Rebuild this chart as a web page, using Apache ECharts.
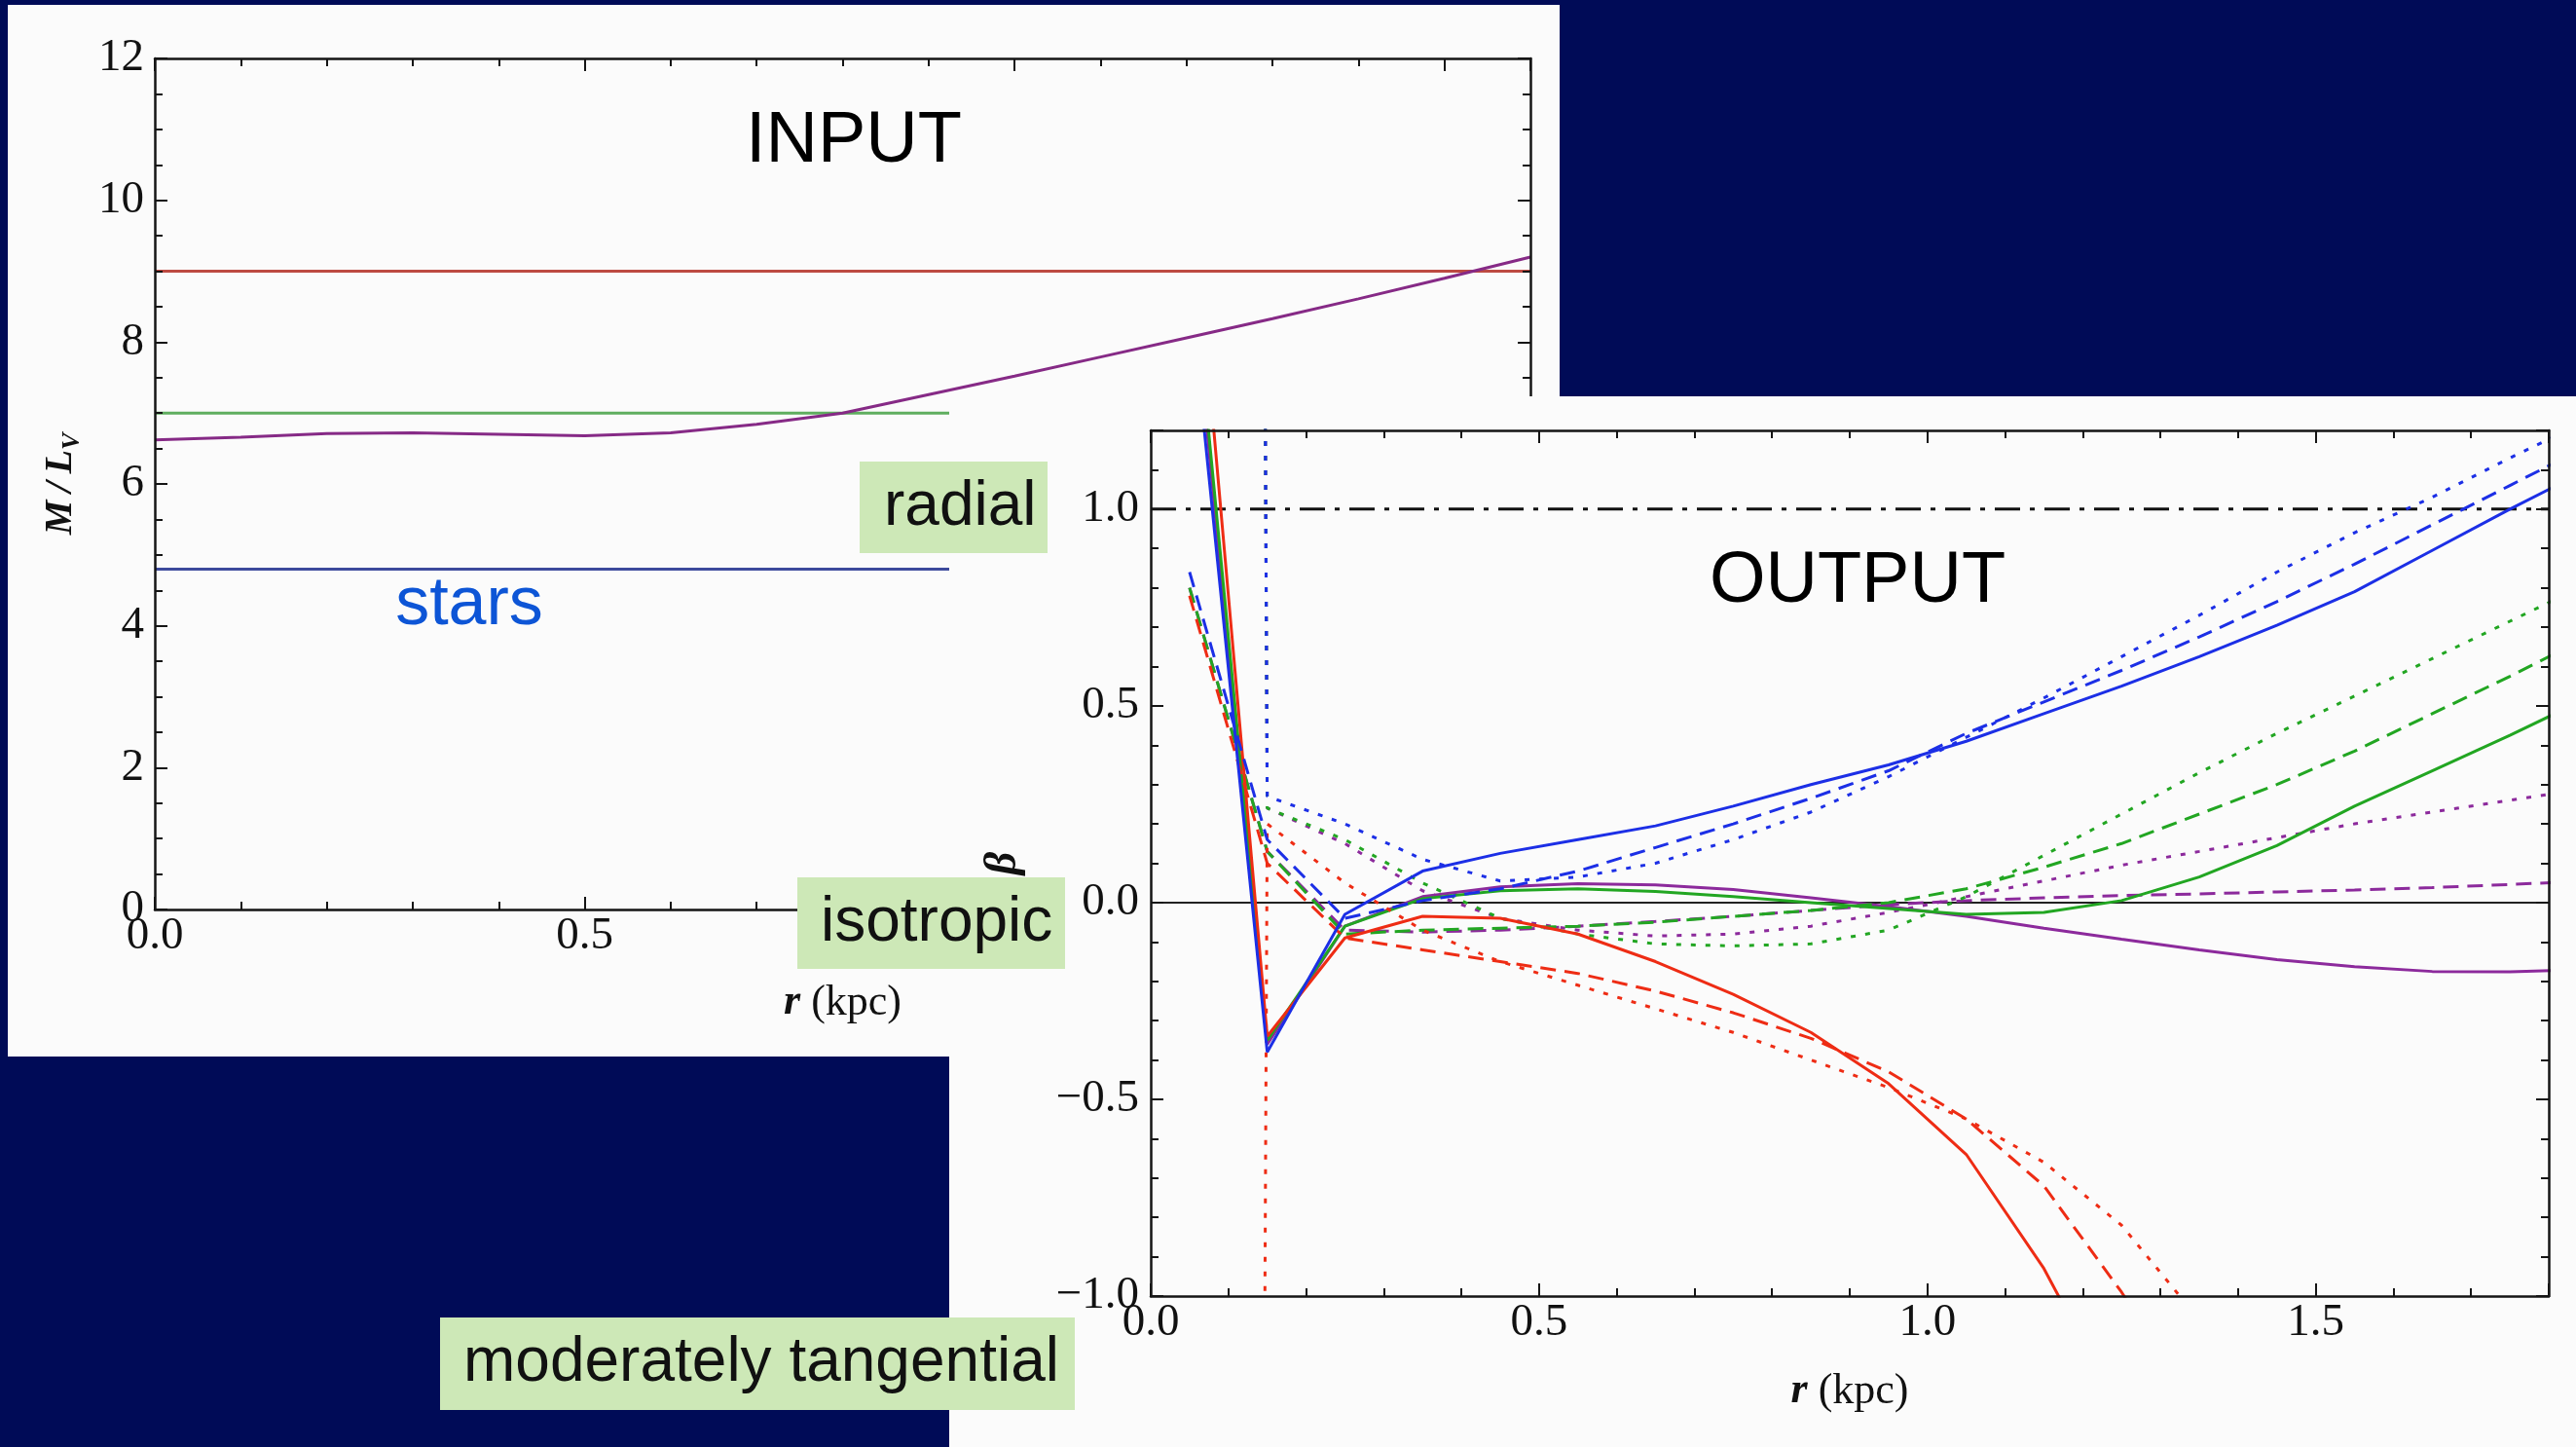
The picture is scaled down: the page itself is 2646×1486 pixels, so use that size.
<!DOCTYPE html>
<html>
<head>
<meta charset="utf-8">
<script src="https://cdn.jsdelivr.net/npm/echarts@6.0.0/dist/echarts.min.js"></script>
<style>
  html, body { margin: 0; padding: 0; background: #000b57; }
  #main { width: 2646px; height: 1486px; }
</style>
</head>
<body>
<div id="main"></div>
<script>
// ---------- INPUT panel: mass-to-light ratio profiles, r in kpc ----------
const rIn = [0.0, 0.1, 0.2, 0.3, 0.4, 0.5, 0.6, 0.7, 0.8, 0.9, 1.0, 1.1, 1.2, 1.3, 1.4, 1.5, 1.6];
const mlRising = [6.62, 6.66, 6.71, 6.72, 6.70, 6.68, 6.72, 6.84, 7.00, 7.26, 7.52, 7.79, 8.06, 8.33, 8.61, 8.90, 9.20];
const rFlat = [0.0, 1.6];
const mlHigh = [9.0, 9.0];
const mlMid = [7.0, 7.0];
const mlStars = [4.8, 4.8];

// ---------- OUTPUT panel: recovered anisotropy beta(r) ----------
const rOut = [0.05, 0.15, 0.25, 0.35, 0.45, 0.55, 0.65, 0.75, 0.85, 0.95, 1.05, 1.15, 1.25, 1.35, 1.45, 1.55, 1.65, 1.75, 1.85];

const betaBlueSolid    = [1.57, -0.38, -0.03, 0.08, 0.125, 0.16, 0.195, 0.245, 0.30, 0.35, 0.41, 0.48, 0.55, 0.625, 0.705, 0.79, 0.895, 1.00, 1.10];
const betaBlueDashed   = [0.84, 0.16, -0.04, 0.005, 0.035, 0.08, 0.14, 0.20, 0.265, 0.335, 0.43, 0.51, 0.59, 0.675, 0.765, 0.86, 0.96, 1.06, 1.16];
const betaBlueDotted   = [40, 0.27, 0.20, 0.11, 0.055, 0.065, 0.10, 0.16, 0.23, 0.32, 0.42, 0.52, 0.625, 0.73, 0.84, 0.94, 1.03, 1.13, 1.225];

const betaGreenSolid   = [1.70, -0.35, -0.06, 0.01, 0.03, 0.035, 0.028, 0.015, 0.0, -0.015, -0.03, -0.025, 0.005, 0.065, 0.145, 0.245, 0.335, 0.425, 0.52];
const betaGreenDashed  = [0.80, 0.13, -0.08, -0.07, -0.065, -0.06, -0.05, -0.035, -0.02, 0.0, 0.035, 0.09, 0.15, 0.225, 0.30, 0.385, 0.48, 0.575, 0.675];
const betaGreenDotted  = [40, 0.24, 0.16, 0.05, -0.04, -0.08, -0.105, -0.11, -0.105, -0.07, 0.015, 0.12, 0.225, 0.33, 0.43, 0.525, 0.62, 0.715, 0.81];

const betaRedSolid     = [1.90, -0.34, -0.09, -0.035, -0.04, -0.08, -0.15, -0.233, -0.33, -0.46, -0.64, -0.93, -1.30];
const betaRedDashed    = [0.78, 0.10, -0.09, -0.12, -0.15, -0.18, -0.225, -0.28, -0.345, -0.43, -0.55, -0.72, -0.99, -1.30];
const betaRedDotted    = [-40, 0.20, 0.05, -0.07, -0.15, -0.21, -0.27, -0.33, -0.40, -0.47, -0.55, -0.66, -0.82, -1.06];

const betaPurpleSolid  = [1.65, -0.36, -0.06, 0.015, 0.04, 0.048, 0.045, 0.033, 0.012, -0.01, -0.035, -0.065, -0.093, -0.12, -0.145, -0.163, -0.175, -0.176, -0.17];
const betaPurpleDashed = [0.80, 0.13, -0.07, -0.075, -0.07, -0.06, -0.048, -0.035, -0.02, -0.005, 0.005, 0.012, 0.018, 0.022, 0.027, 0.032, 0.038, 0.046, 0.055];
const betaPurpleDotted = [40, 0.24, 0.15, 0.03, -0.04, -0.07, -0.085, -0.08, -0.06, -0.025, 0.015, 0.055, 0.095, 0.13, 0.165, 0.20, 0.23, 0.26, 0.29];

// reference levels: isotropic (0) and purely radial (1)
const rRef = [0.0, 1.8];
const betaIsotropic = [0, 0];
const betaRadial = [1, 1];

// ---------- styling ----------
const SERIF = '"Liberation Serif", "Times New Roman", serif';
const SANS = '"Liberation Sans", Arial, sans-serif';
const INK = '#151515';
const PAPER = '#fbfbfb';
const LABEL_BG = '#cde8b7';
const DASHED = [16, 9];
const DOTTED = [5, 10];
const DASHDOT = [26, 10, 5, 10];

const inCol = { high: '#bd4a42', mid: '#5fae5f', stars: '#3d4a9c', rising: '#862a86' };
const outCol = { blue: '#1c2fe6', green: '#22a622', red: '#ee2c14', purple: '#8c2a9c' };

function pairs(xs, ys) { return ys.map((y, i) => [xs[i], y]); }

function tickFormatter(step, digits) {
  return function (v) {
    const k = v / step;
    if (Math.abs(k - Math.round(k)) > 1e-6) return '';
    const s = digits ? v.toFixed(digits) : String(Math.round(v));
    return s.replace('-', '\u2212');
  };
}

// four framed sides, each with a major-tick axis and a minor-tick axis
function frameAxes(dim, g, zl, min, max, major, minor, label, nameOpt) {
  const sides = dim === 'x' ? ['bottom', 'top'] : ['left', 'right'];
  const base = { type: 'value', gridIndex: g, min: min, max: max, zlevel: zl, z: 5, splitLine: { show: false } };
  const tick = { color: INK, width: 2 };
  const out = [];
  sides.forEach((pos, si) => {
    const first = si === 0;
    out.push(Object.assign({}, base, {
      position: pos, interval: major,
      axisLine: { show: true, onZero: false, lineStyle: { color: INK, width: 2.5 } },
      axisTick: { show: true, inside: true, length: 13, lineStyle: tick },
      axisLabel: first ? Object.assign({ show: true, fontFamily: SERIF, fontSize: 47, color: '#111', hideOverlap: false }, label) : { show: false }
    }, first ? nameOpt : {}));
    out.push(Object.assign({}, base, {
      position: pos, interval: minor,
      axisLine: { show: false, onZero: false },
      axisTick: { show: true, inside: true, length: 8, lineStyle: tick },
      axisLabel: { show: false }
    }));
  });
  return out;
}

const rName = {
  name: '{i|r} (kpc)', nameLocation: 'middle',
  nameTextStyle: {
    fontFamily: SERIF, fontSize: 44, color: '#111',
    rich: { i: { fontFamily: SERIF, fontSize: 44, fontStyle: 'italic', fontWeight: 'bold', color: '#111' } }
  }
};

const xAxes = [].concat(
  frameAxes('x', 0, 0, 0, 1.6, 0.5, 0.1, { margin: 4, formatter: tickFormatter(0.5, 1) }, Object.assign({}, rName, { nameGap: 74 })),
  frameAxes('x', 1, 1, 0, 1.8, 0.5, 0.1, { margin: 4, formatter: tickFormatter(0.5, 1) }, Object.assign({}, rName, { nameGap: 76 }))
);
const yAxes = [].concat(
  frameAxes('y', 0, 0, 0, 12, 2, 0.5, { margin: 11, formatter: tickFormatter(2, 0) }, {
    name: '{m|M\u2009/\u2009L}{s|V}', nameLocation: 'middle', nameRotate: 90, nameGap: 72,
    nameTextStyle: {
      rich: {
        m: { fontFamily: SERIF, fontSize: 40, fontStyle: 'italic', fontWeight: 'bold', color: '#111', lineHeight: 48, verticalAlign: 'middle' },
        s: { fontFamily: SERIF, fontSize: 26, fontStyle: 'italic', fontWeight: 'bold', color: '#111', lineHeight: 30, verticalAlign: 'bottom' }
      }
    }
  }),
  frameAxes('y', 1, 1, -1, 1.2, 0.5, 0.1, { margin: 12, formatter: tickFormatter(0.5, 1) }, {
    name: '\u03b2', nameLocation: 'middle', nameRotate: 90, nameGap: 128,
    nameTextStyle: { fontFamily: SERIF, fontSize: 46, fontStyle: 'italic', fontWeight: 'bold', color: '#111' }
  })
);
// axis indices: grid 0 -> x 0 / y 0, grid 1 -> x 4 / y 4

function inLine(name, xs, ys, color) {
  return {
    name: name, type: 'line', xAxisIndex: 0, yAxisIndex: 0, zlevel: 0, z: 3,
    data: pairs(xs, ys), showSymbol: false, symbol: 'none', silent: true,
    lineStyle: { color: color, width: 3 }
  };
}
function outLine(name, ys, color, dash, width) {
  return {
    name: name, type: 'line', xAxisIndex: 4, yAxisIndex: 4, zlevel: 1, z: 3,
    data: pairs(rOut, ys), showSymbol: false, symbol: 'none', silent: true,
    lineStyle: { color: color, width: width || 3, type: dash || 'solid' }
  };
}

const series = [
  inLine('M/L 9', rFlat, mlHigh, inCol.high),
  inLine('M/L 7', rFlat, mlMid, inCol.mid),
  inLine('stars', rFlat, mlStars, inCol.stars),
  inLine('M/L rising', rIn, mlRising, inCol.rising),

  { name: 'isotropic', type: 'line', xAxisIndex: 4, yAxisIndex: 4, zlevel: 1, z: 2, silent: true,
    data: pairs(rRef, betaIsotropic), showSymbol: false, symbol: 'none', lineStyle: { color: '#222', width: 2 } },
  { name: 'radial', type: 'line', xAxisIndex: 4, yAxisIndex: 4, zlevel: 1, z: 2, silent: true,
    data: pairs(rRef, betaRadial), showSymbol: false, symbol: 'none', lineStyle: { color: '#111', width: 3, type: DASHDOT } },

  outLine('purple dotted', betaPurpleDotted, outCol.purple, DOTTED),
  outLine('purple dashed', betaPurpleDashed, outCol.purple, DASHED),
  outLine('purple solid', betaPurpleSolid, outCol.purple),
  outLine('green dotted', betaGreenDotted, outCol.green, DOTTED),
  outLine('green dashed', betaGreenDashed, outCol.green, DASHED),
  outLine('green solid', betaGreenSolid, outCol.green),
  outLine('red dotted', betaRedDotted, outCol.red, DOTTED),
  outLine('red dashed', betaRedDashed, outCol.red, DASHED),
  outLine('red solid', betaRedSolid, outCol.red),
  outLine('blue dotted', betaBlueDotted, outCol.blue, DOTTED),
  outLine('blue dashed', betaBlueDashed, outCol.blue, DASHED),
  outLine('blue solid', betaBlueSolid, outCol.blue)
];

function textEl(text, x, y, size, color, zl, align) {
  return {
    type: 'text', zlevel: zl, z: 20, x: x, y: y, silent: true,
    style: {
      text: text, font: size + 'px ' + SANS, fill: color,
      textAlign: align || 'center', textVerticalAlign: 'middle',
      align: align || 'center', verticalAlign: 'middle'
    }
  };
}
function tagEl(text, x, y, w, h, padLeft) {
  return [
    { type: 'rect', zlevel: 2, z: 10, silent: true, shape: { x: x, y: y, width: w, height: h }, style: { fill: LABEL_BG } },
    textEl(text, x + padLeft, y + h / 2, 64, '#111', 2, 'left')
  ];
}

const graphics = [
  { type: 'rect', zlevel: 0, z: 0, silent: true, shape: { x: 8, y: 5, width: 1594, height: 1080 }, style: { fill: PAPER } },
  { type: 'rect', zlevel: 1, z: 0, silent: true, shape: { x: 975, y: 407, width: 1671, height: 1079 }, style: { fill: PAPER } },
  textEl('INPUT', 877, 146, 74, '#000', 0),
  textEl('stars', 482, 622, 70, '#0d55d6', 0),
  textEl('OUTPUT', 1908, 598, 74, '#000', 1)
].concat(
  tagEl('radial', 883, 474, 193, 94, 25),
  tagEl('isotropic', 819, 901, 275, 94, 24),
  tagEl('moderately tangential', 452, 1353, 652, 95, 24)
);

const chart = echarts.init(document.getElementById('main'), null, { renderer: 'canvas' });
chart.setOption({
  backgroundColor: '#000b57',
  animation: false,
  grid: [
    { left: 159, top: 60, width: 1413, height: 874, zlevel: 0 },
    { left: 1182, top: 442, width: 1436, height: 889, zlevel: 1 }
  ],
  xAxis: xAxes,
  yAxis: yAxes,
  series: series,
  graphic: { elements: graphics }
});
</script>
</body>
</html>
